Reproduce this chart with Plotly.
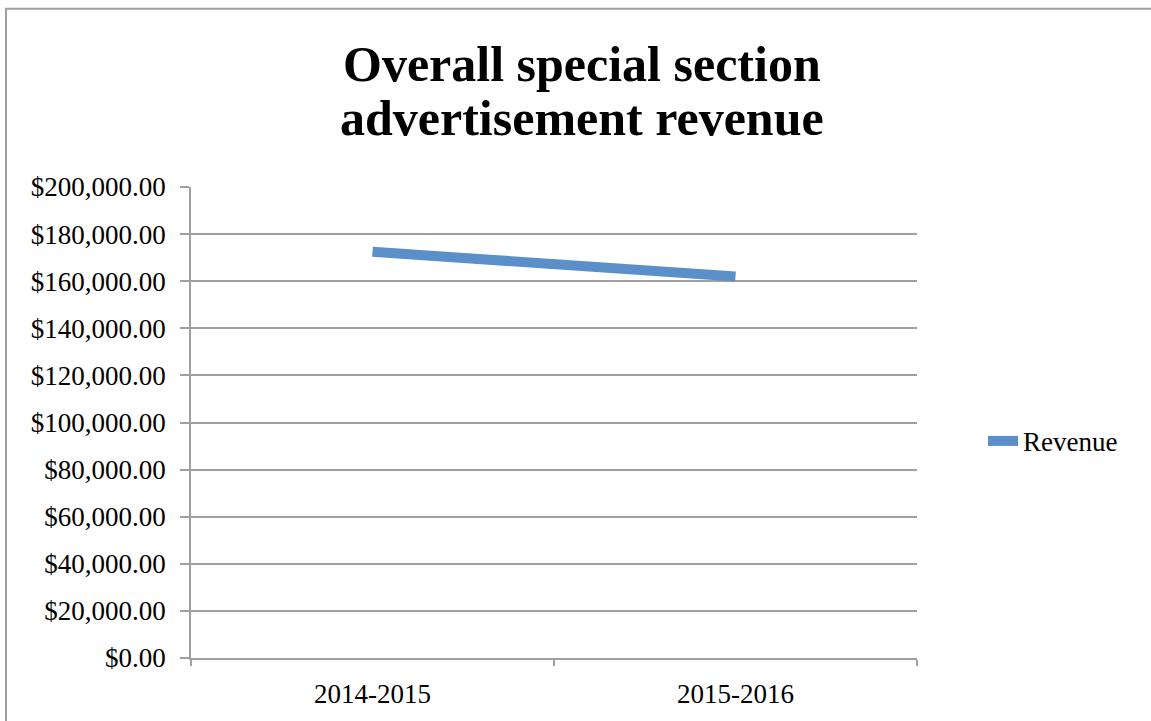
import plotly.graph_objects as go

# Fiscal years and total special section ad revenue (USD)
years = ["2014-2015", "2015-2016"]
revenue = [172500, 162000]
title_lines = ["Overall special section", "advertisement revenue"]

W, H = 1151, 721
ML, MR, MT, MB = 191, 234, 187, 60
PW, PH = W - ML - MR, H - MT - MB

GRID = "#A0A0A0"
BLUE = "#5B8FC9"
FONT = "Liberation Serif"
TICK_SIZE = 27


def px_to_paper_x(px):
    return (px - ML) / PW


def px_to_paper_y(py):
    return (H - MB - py) / PH


fig = go.Figure()
fig.add_trace(go.Scatter(
    x=years, y=revenue, mode="lines", name="Revenue",
    line=dict(color=BLUE, width=10),
))

# Two-line bold heading, each line placed separately for tight spacing
title_y = [63, 118]
annotations = [
    dict(
        text=f"<b>{line}</b>", xref="paper", yref="paper",
        x=px_to_paper_x(582), y=px_to_paper_y(py),
        xanchor="center", yanchor="middle", showarrow=False,
        font=dict(family=FONT, size=50, color="black"),
    )
    for line, py in zip(title_lines, title_y)
]

fig.update_layout(
    width=W, height=H,
    margin=dict(l=ML, r=MR, t=MT, b=MB),
    paper_bgcolor="white", plot_bgcolor="white",
    font=dict(family=FONT, color="black", size=TICK_SIZE),
    showlegend=True,
    legend=dict(
        x=px_to_paper_x(983), xanchor="left",
        y=px_to_paper_y(443), yanchor="middle",
        font=dict(family=FONT, size=TICK_SIZE, color="black"),
        bgcolor="rgba(0,0,0,0)",
    ),
    xaxis=dict(
        type="category", range=[-0.5, 1.5],
        showline=True, linecolor=GRID, linewidth=1.5,
        ticks="outside", tickson="boundaries", ticklen=6, tickcolor=GRID, tickwidth=1.5,
        showgrid=False, zeroline=False,
        tickfont=dict(family=FONT, size=TICK_SIZE),
        ticklabelstandoff=11,
    ),
    yaxis=dict(
        range=[0, 200000], dtick=20000,
        tickprefix="$", tickformat=",.2f",
        showline=True, linecolor=GRID, linewidth=1.5,
        ticks="outside", ticklen=9, tickcolor=GRID, tickwidth=1.5,
        showgrid=True, gridcolor=GRID, gridwidth=1.5,
        zeroline=False,
        tickfont=dict(family=FONT, size=TICK_SIZE),
        ticklabelstandoff=9,
    ),
    annotations=annotations,
    shapes=[dict(
        type="rect", xref="paper", yref="paper",
        x0=px_to_paper_x(6), x1=px_to_paper_x(1160),
        y0=px_to_paper_y(730), y1=px_to_paper_y(7.5),
        line=dict(color="#A0A0A0", width=2), fillcolor="rgba(0,0,0,0)",
        layer="below",
    )],
)

fig.write_html("out.html")
